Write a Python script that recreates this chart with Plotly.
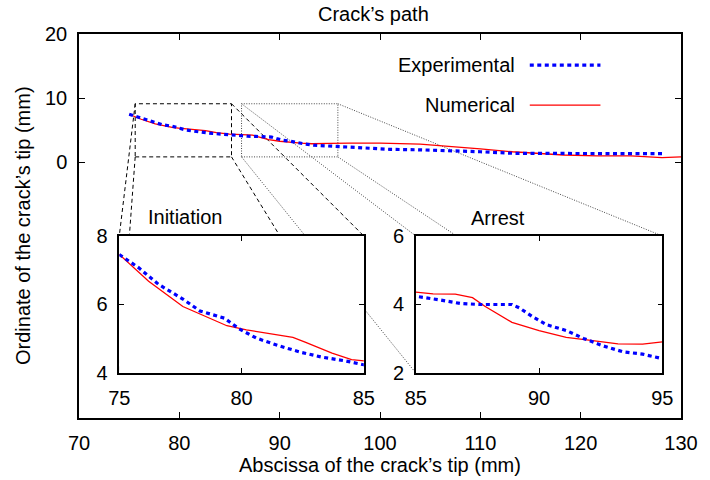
import plotly.graph_objects as go

# ---- data ----
exp_x = [75, 75.8, 76.6, 77.6, 78.3, 79.3, 79.9, 80.6, 81.5, 82.4, 83.3, 84.2, 85,
         86, 86.8, 87.6, 88.9, 89.2, 89.7, 90.3, 91.1, 91.8, 92.6, 93.4, 94.2, 95,
         97, 99, 101, 104, 107, 110, 113.4, 116, 120, 124, 128.4]
exp_y = [7.46, 7.07, 6.59, 6.16, 5.81, 5.6, 5.29, 5.02, 4.80, 4.61, 4.46, 4.36, 4.24,
         4.13, 4.03, 4.0, 4.0, 3.9, 3.66, 3.41, 3.24, 3.01, 2.79, 2.62, 2.55, 2.42,
         2.25, 2.08, 1.98, 1.9, 1.8, 1.6, 1.35, 1.32, 1.3, 1.3, 1.3]

num_x = [75, 76.2, 77.6, 79.4, 80.2, 82.1, 82.6, 83.7, 84.5, 85, 85.7, 86.6, 87.3,
         87.8, 88.3, 88.9, 90, 91.1, 92.1, 93.2, 94.2, 95, 97, 100, 104, 107.6,
         110, 113.2, 116, 118.3, 121.6, 125, 128.1, 130]
num_y = [7.46, 6.68, 5.94, 5.38, 5.26, 5.04, 4.90, 4.58, 4.39, 4.36, 4.31, 4.30, 4.20,
         3.95, 3.73, 3.48, 3.24, 3.04, 2.95, 2.85, 2.84, 2.91, 2.95, 2.95, 2.8, 2.4,
         2.05, 1.6, 1.3, 1.09, 0.95, 0.95, 0.68, 0.8]

main_xticks = [70, 80, 90, 100, 110, 120, 130]
main_yticks = [0, 10, 20]
init_xticks = [75, 80, 85]
init_yticks = [4, 6, 8]
arrest_xticks = [85, 90, 95]
arrest_yticks = [2, 4, 6]

# zoom boxes drawn in the main panel (data coords)
zoom_init_x = [75.6, 85.2]
zoom_arrest_x = [86.2, 95.8]
zoom_y = [0.8, 9.1]

# ---- layout geometry ----
W, H = 710, 480
ML, MR, MT, MB = 79, 18, 34, 62
XR = [70, 130]
YR = [-40, 20]
inset1_dom = [0.0669, 0.4731]
inset2_dom = [0.5595, 0.969]
inset_ydom = [0.1172, 0.474]

FONT = "Liberation Sans, Arial, Helvetica, sans-serif"
FS = 20
BLUE = "#0000ff"
RED = "#ff0000"


def dx(p):
    return XR[0] + p * (XR[1] - XR[0])


def dy(p):
    return YR[0] + p * (YR[1] - YR[0])


fig = go.Figure()

for xa, ya in [("x", "y"), ("x2", "y2"), ("x3", "y3")]:
    fig.add_trace(go.Scatter(x=num_x, y=num_y, mode="lines", xaxis=xa, yaxis=ya,
                             line=dict(color=RED, width=1.3), showlegend=False))
    fig.add_trace(go.Scatter(x=exp_x, y=exp_y, mode="lines", xaxis=xa, yaxis=ya,
                             line=dict(color=BLUE, width=3.2, dash="4px,3.5px"),
                             showlegend=False))

shapes = []
dash_line = dict(color="black", width=1, dash="4px,3px")
dot_line = dict(color="#333333", width=0.9, dash="1px,1.5px")

# zoom rectangles
shapes.append(dict(type="rect", xref="x", yref="y", layer="below",
                   x0=zoom_init_x[0], x1=zoom_init_x[1], y0=zoom_y[0], y1=zoom_y[1],
                   line=dash_line))
shapes.append(dict(type="rect", xref="x", yref="y", layer="below",
                   x0=zoom_arrest_x[0], x1=zoom_arrest_x[1], y0=zoom_y[0], y1=zoom_y[1],
                   line=dot_line))

# connecting lines (corner to corner)
for box_x, dom, ln in [(zoom_init_x, inset1_dom, dash_line),
                       (zoom_arrest_x, inset2_dom, dot_line)]:
    ix = [dx(dom[0]), dx(dom[1])]
    iy = [dy(inset_ydom[0]), dy(inset_ydom[1])]
    for i in range(2):
        for j in range(2):
            shapes.append(dict(type="line", xref="x", yref="y", layer="below",
                               x0=box_x[i], y0=zoom_y[j], x1=ix[i], y1=iy[j],
                               line=ln))

# white backgrounds of the insets (hide lines behind)
for dom in [inset1_dom, inset2_dom]:
    shapes.append(dict(type="rect", xref="x", yref="y", layer="below",
                       x0=dx(dom[0]), x1=dx(dom[1]),
                       y0=dy(inset_ydom[0]), y1=dy(inset_ydom[1]),
                       fillcolor="white", line=dict(width=0)))

# legend samples
LEG_Y = [0.919, 0.815]
shapes.append(dict(type="line", xref="paper", yref="paper", layer="above",
                   x0=0.7488, x1=0.8662, y0=LEG_Y[0], y1=LEG_Y[0],
                   line=dict(color=BLUE, width=3.2, dash="4px,3.5px")))
shapes.append(dict(type="line", xref="paper", yref="paper", layer="above",
                   x0=0.7488, x1=0.8662, y0=LEG_Y[1], y1=LEG_Y[1],
                   line=dict(color=RED, width=1.3)))

annotations = [
    dict(text="Experimental", x=0.7276, y=LEG_Y[0], xref="paper", yref="paper",
         xanchor="right", yanchor="middle", showarrow=False, font=dict(size=FS)),
    dict(text="Numerical", x=0.7276, y=LEG_Y[1], xref="paper", yref="paper",
         xanchor="right", yanchor="middle", showarrow=False, font=dict(size=FS)),
    dict(text="Initiation", x=0.1762, y=0.5234, xref="paper", yref="paper",
         xanchor="center", yanchor="middle", showarrow=False, font=dict(size=FS)),
    dict(text="Arrest", x=0.6966, y=0.5208, xref="paper", yref="paper",
         xanchor="center", yanchor="middle", showarrow=False, font=dict(size=FS)),
    dict(text="Abscissa of the crack’s tip (mm)", x=0.5, y=-47 / 384, xref="paper",
         yref="paper", xanchor="center", yanchor="middle", showarrow=False,
         font=dict(size=FS)),
    dict(text="Ordinate of the crack’s tip (mm)", x=-0.093, y=0.5, xref="paper",
         yref="paper", xanchor="center", yanchor="middle", textangle=-90,
         showarrow=False, font=dict(size=FS)),
    dict(text="Crack’s path", x=0.49, y=1 + 20 / 384, xref="paper", yref="paper",
         xanchor="center", yanchor="middle", showarrow=False, font=dict(size=FS)),
]


def axis_style(**kw):
    d = dict(showline=True, linecolor="black", linewidth=1.5, mirror="ticks",
             ticks="inside", ticklen=6, tickwidth=1, tickcolor="black",
             showgrid=False, zeroline=False, tickfont=dict(size=FS, color="black"),
             ticklabelstandoff=6, fixedrange=True)
    d.update(kw)
    return d


fig.update_layout(
    width=W, height=H, autosize=False,
    margin=dict(l=ML, r=MR, t=MT, b=MB, pad=0),
    paper_bgcolor="white", plot_bgcolor="white",
    font=dict(family=FONT, color="black", size=FS),
    showlegend=False,
    xaxis=axis_style(domain=[0, 1], range=XR, tickvals=main_xticks, anchor="y"),
    yaxis=axis_style(domain=[0, 1], range=YR, tickvals=main_yticks, anchor="x"),
    xaxis2=axis_style(domain=inset1_dom, range=[75, 85], tickvals=init_xticks,
                      anchor="y2", ticklen=5),
    yaxis2=axis_style(domain=inset_ydom, range=[4, 8], tickvals=init_yticks,
                      anchor="x2", ticklen=5),
    xaxis3=axis_style(domain=inset2_dom, range=[85, 95], tickvals=arrest_xticks,
                      anchor="y3", ticklen=5),
    yaxis3=axis_style(domain=inset_ydom, range=[2, 6], tickvals=arrest_yticks,
                      anchor="x3", ticklen=5),
    shapes=shapes,
    annotations=annotations,
)

fig.write_html(
    "out.html",
    config={"displayModeBar": False, "responsive": False},
    post_script="document.body.style.margin='0';document.body.style.overflow='hidden';",
)
